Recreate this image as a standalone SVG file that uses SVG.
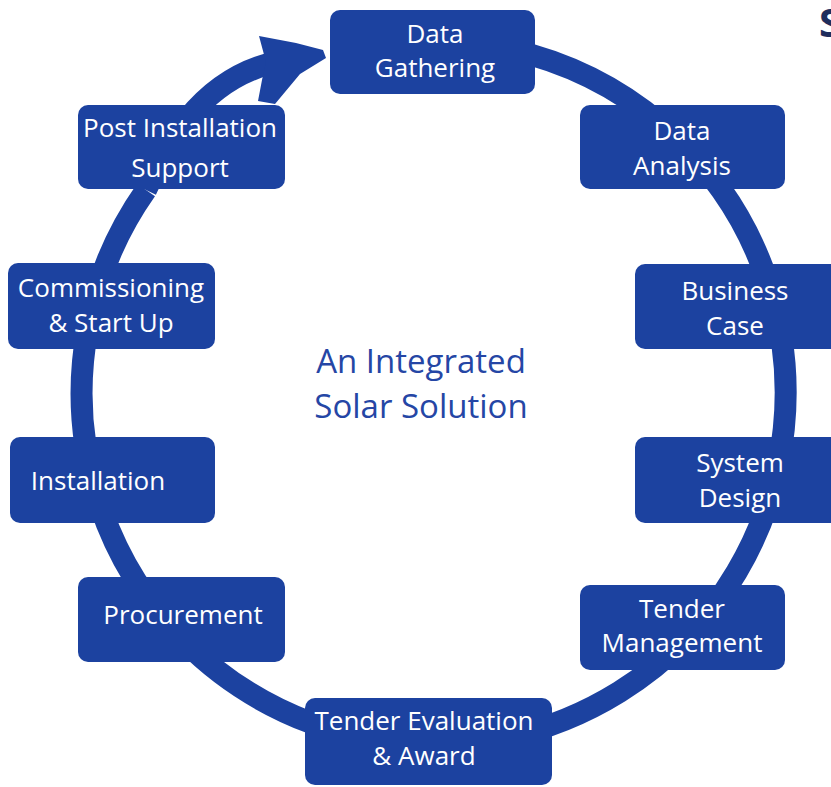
<svg xmlns="http://www.w3.org/2000/svg" width="831" height="787" viewBox="0 0 831 787">
<style>
.box{fill:#1c42a0;}
.lbl{fill:#ffffff;font-family:"Open Sans","Noto Sans",sans-serif;font-size:26px;text-anchor:middle;}
.ring{fill:none;stroke:#1c42a0;stroke-width:22;}
.title{fill:#2546a5;font-family:"Open Sans","Noto Sans",sans-serif;font-size:33px;text-anchor:middle;}
</style>
<rect width="831" height="787" fill="#ffffff"/>
<g id="connectors">
<path class="ring" d="M 380 45 A 352 352 0 1 1 146 190"/>
<path class="ring" d="M 146 190 C 165 150 195 85 268 64"/>
<polygon fill="#1c42a0" points="259,36 296,43 323,50 326,58 300,74 275,104 258,101 262,80 266,62"/>
</g>
<g id="title">
<text class="title" x="421" y="373">An Integrated</text>
<text class="title" x="421" y="418">Solar Solution</text>
</g>
<g id="n-data-gathering">
<rect class="box" x="330" y="10" width="205" height="84" rx="10"/>
<text class="lbl" x="435" y="43">Data</text>
<text class="lbl" x="435" y="77">Gathering</text>
</g>
<g id="n-data-analysis">
<rect class="box" x="580" y="105" width="205" height="84" rx="10"/>
<text class="lbl" x="682" y="140">Data</text>
<text class="lbl" x="682" y="175">Analysis</text>
</g>
<g id="n-business-case">
<rect class="box" x="635" y="264" width="205" height="85" rx="10"/>
<text class="lbl" x="735" y="300">Business</text>
<text class="lbl" x="735" y="335">Case</text>
</g>
<g id="n-system-design">
<rect class="box" x="635" y="437" width="205" height="86" rx="10"/>
<text class="lbl" x="740" y="472">System</text>
<text class="lbl" x="740" y="507">Design</text>
</g>
<g id="n-tender-management">
<rect class="box" x="580" y="585" width="205" height="85" rx="10"/>
<text class="lbl" x="682" y="618">Tender</text>
<text class="lbl" x="682" y="652">Management</text>
</g>
<g id="n-tender-evaluation">
<rect class="box" x="305" y="698" width="247" height="87" rx="10"/>
<text class="lbl" x="424" y="730">Tender Evaluation</text>
<text class="lbl" x="424" y="765">&amp; Award</text>
</g>
<g id="n-procurement">
<rect class="box" x="78" y="577" width="207" height="85" rx="10"/>
<text class="lbl" x="183" y="624">Procurement</text>
</g>
<g id="n-installation">
<rect class="box" x="10" y="437" width="205" height="86" rx="10"/>
<text class="lbl" x="98" y="490">Installation</text>
</g>
<g id="n-commissioning">
<rect class="box" x="8" y="263" width="207" height="86" rx="10"/>
<text class="lbl" x="111" y="297">Commissioning</text>
<text class="lbl" x="111" y="332">&amp; Start Up</text>
</g>
<g id="n-post-installation">
<rect class="box" x="78" y="105" width="207" height="84" rx="10"/>
<text class="lbl" x="180" y="137">Post Installation</text>
<text class="lbl" x="180" y="177">Support</text>
</g>
<g id="corner">
<text x="819" y="37" font-family="'Open Sans','Noto Sans',sans-serif" font-size="40" font-weight="bold" fill="#1f2d5c">S</text>
</g>
</svg>
